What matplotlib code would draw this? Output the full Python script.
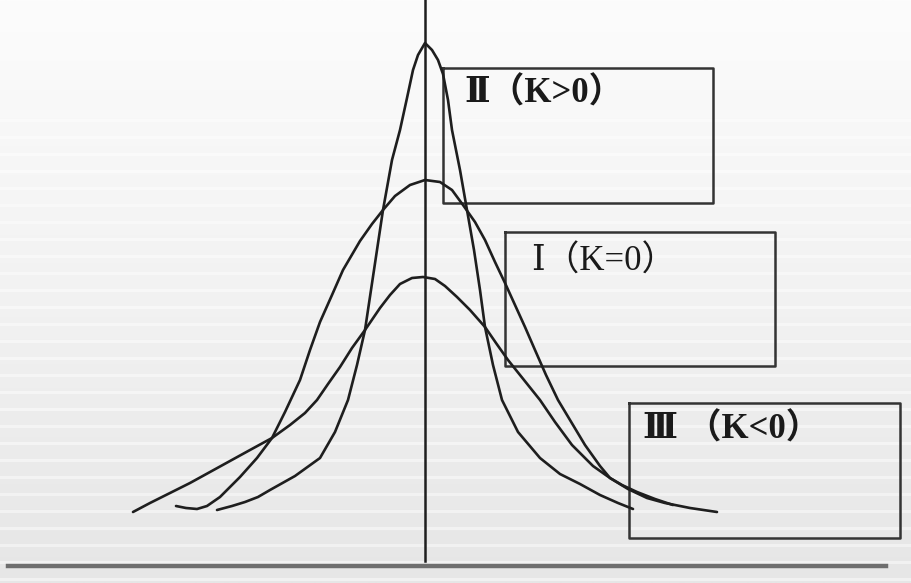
import matplotlib
matplotlib.use("Agg")
import matplotlib.pyplot as plt
import numpy as np

# ── Curve points (pixel coords, y grows downward) ─────────────────────────────
tall_x = [217, 232, 245, 258, 270, 295, 320, 335, 348, 357, 365, 374, 383,
          392, 400, 407, 413, 418, 425, 432, 438, 443, 448, 452, 460, 467,
          474, 480, 485, 493, 502, 518, 540, 560, 580, 600, 618, 633]
tall_y = [510, 506, 502, 497, 490, 476, 458, 432, 400, 365, 330, 270, 210,
          160, 130, 98, 70, 55, 43, 50, 60, 74, 100, 130, 170, 210,
          250, 290, 327, 365, 400, 432, 458, 474, 484, 495, 503, 509]

mid_x = [176, 186, 197, 207, 220, 240, 257, 272, 285, 300, 310, 320, 332,
         343, 360, 372, 383, 395, 410, 425, 440, 452, 463, 475, 485, 495,
         505, 515, 525, 535, 546, 558, 570, 585, 600, 610, 622, 637, 655, 673]
mid_y = [506, 508, 509, 506, 497, 477, 458, 438, 412, 380, 350, 322, 295,
         270, 241, 224, 210, 196, 185, 180, 182, 190, 205, 222, 240, 262,
         283, 305, 327, 350, 375, 400, 420, 445, 466, 478, 485, 492, 499, 505]

low_x = [133, 150, 170, 190, 210, 230, 250, 272, 290, 305, 317, 328, 340,
         352, 365, 380, 390, 400, 412, 423, 435, 445, 457, 470, 485, 496,
         508, 524, 540, 555, 572, 593, 610, 628, 647, 665, 690, 717]
low_y = [512, 503, 493, 483, 472, 461, 450, 438, 425, 413, 400, 384, 367,
         348, 330, 308, 295, 284, 278, 277, 279, 286, 297, 310, 327, 343,
         360, 380, 400, 422, 445, 466, 478, 489, 498, 503, 508, 512]

# label boxes: (left, top, right, bottom) and label text
box_rects = [(443, 68, 713, 203), (505, 232, 775, 366), (629, 403, 900, 538)]
box_labels = ["Ⅱ（K>0）", "Ⅰ（K=0）", "Ⅲ （K<0）"]
label_pos = [(464, 94), (531, 262), (643, 430)]
label_weight = ["bold", "normal", "bold"]

W, H = 911, 583
INK = "#1e1e1e"

fig = plt.figure(figsize=(W / 100, H / 100), dpi=100)
ax = fig.add_axes([0, 0, 1, 1])
ax.set_xlim(0, W)
ax.set_ylim(H, 0)
ax.axis("off")

# slide background: light grey gradient with faint horizontal banding
grad = np.linspace(0, 1, 200)[:, None] * np.ones((1, 2))
bg = plt.matplotlib.colors.LinearSegmentedColormap.from_list(
    "bg", ["#fcfcfc", "#f2f2f2", "#e6e6e6"])
ax.imshow(grad, cmap=bg, extent=(0, W, H, 0), aspect="auto", zorder=0)
for yy in range(120, H, 17):
    ax.axhline(yy, color="white", lw=2.2, alpha=0.45, zorder=0.5)

# axes of the sketch
ax.plot([425, 425], [0, 561], color=INK, lw=1.8, zorder=2)
ax.plot([8, 886], [566, 566], color="#6e6e6e", lw=3.2, zorder=2)

# boxes
for (l, t, r, b) in box_rects:
    ax.plot([l, r, r, l, l], [t, t, b, b, t], color="#333333", lw=1.8, zorder=2)

for txt, (x, y), wt in zip(box_labels, label_pos, label_weight):
    ax.text(x, y, txt, fontsize=25, color="#1a1a1a", va="center", ha="left",
            fontweight=wt,
            family=["Liberation Serif", "DejaVu Serif", "Noto Sans CJK SC"],
            zorder=4)

# the three curves
for xs, ys in ((tall_x, tall_y), (mid_x, mid_y), (low_x, low_y)):
    ax.plot(xs, ys, color=INK, lw=1.9, solid_joinstyle="round",
            solid_capstyle="round", zorder=3)

fig.savefig("out.png", dpi=100)
plt.close(fig)
